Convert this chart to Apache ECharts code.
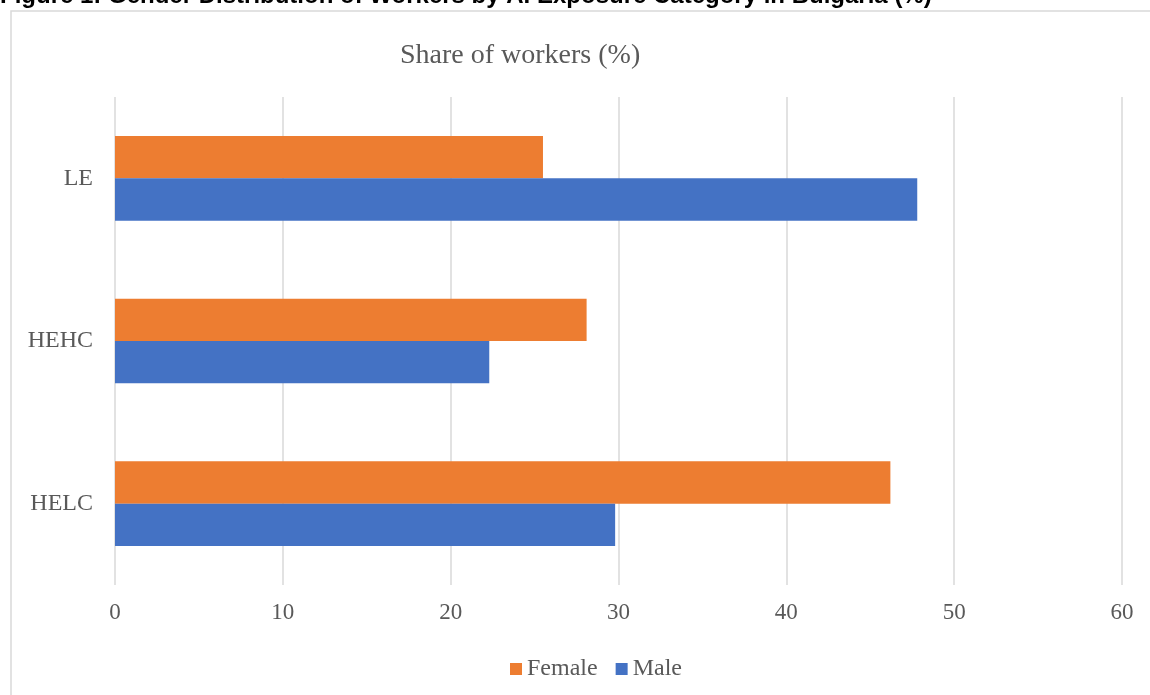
<!DOCTYPE html>
<html>
<head>
<meta charset="utf-8">
<script src="https://cdn.jsdelivr.net/npm/echarts@6/dist/echarts.min.js"></script>
<style>
html,body{margin:0;padding:0;background:#fff;}
#c{width:1150px;height:695px;}
</style>
</head>
<body>
<div id="c"></div>
<script>
const categories = ['HELC', 'HEHC', 'LE'];
const femaleValues = [46.2, 28.1, 25.5];
const maleValues = [29.8, 22.3, 47.8];
const xTicks = { min: 0, max: 60, interval: 10 };
const figureTitle = 'Figure 1: Gender Distribution of Workers by AI Exposure Category in Bulgaria (%)';
const chartTitle = 'Share of workers (%)';

const serif = '"Liberation Serif", "Times New Roman", serif';
const gray = '#595959';
const chart = echarts.init(document.getElementById('c'), null, { renderer: 'canvas' });
chart.setOption({
  animation: false,
  backgroundColor: '#fff',
  graphic: [
    { type: 'rect', shape: { x: 11, y: 11, width: 1200, height: 750 }, style: { fill: 'none', stroke: '#d9d9d9', lineWidth: 1.5 }, z: -10 },
    { type: 'text', x: 0, y: 8, style: { text: figureTitle, font: 'bold 24px "Liberation Sans", Arial, sans-serif', fill: '#000', textVerticalAlign: 'bottom' } }
  ],
  title: {
    text: chartTitle,
    left: 395, top: 37,
    textStyle: { fontFamily: serif, fontSize: 28, fontWeight: 'normal', color: gray }
  },
  legend: {
    data: ['Female', 'Male'],
    left: 505, top: 652,
    icon: 'rect', itemWidth: 12, itemHeight: 12, itemGap: 18,
    textStyle: { fontFamily: serif, fontSize: 24, color: gray }
  },
  grid: { left: 115, right: 28, top: 97, bottom: 110, containLabel: false },
  xAxis: {
    type: 'value', min: xTicks.min, max: xTicks.max, interval: xTicks.interval,
    axisLine: { show: false }, axisTick: { show: false },
    splitLine: { show: true, lineStyle: { color: '#d9d9d9', width: 1.5 } },
    axisLabel: { fontFamily: serif, fontSize: 23, color: gray, margin: 16 }
  },
  yAxis: {
    type: 'category', data: categories,
    axisLine: { show: false }, axisTick: { show: false },
    axisLabel: { fontFamily: serif, fontSize: 24, color: gray, margin: 22 }
  },
  series: [
    { name: 'Female', type: 'bar', data: femaleValues, itemStyle: { color: '#ed7d31' }, barGap: '0%', barCategoryGap: '48%' },
    { name: 'Male', type: 'bar', data: maleValues, itemStyle: { color: '#4472c4' }, barGap: '0%', barCategoryGap: '48%' }
  ]
});
</script>
</body>
</html>
